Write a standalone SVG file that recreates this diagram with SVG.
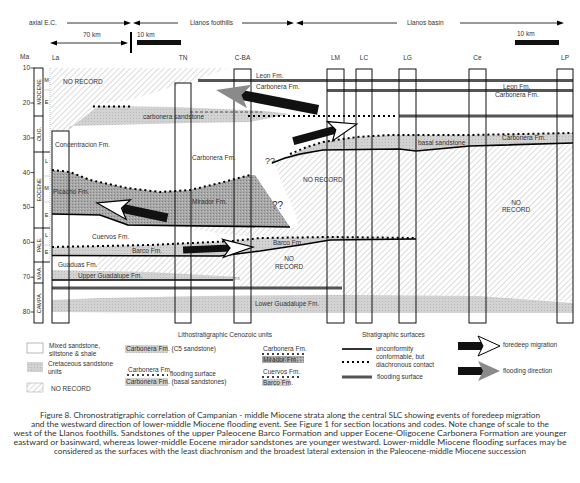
<svg xmlns="http://www.w3.org/2000/svg" width="580" height="483" viewBox="0 0 580 483">
<style>
.t{font-family:"Liberation Sans",Arial,sans-serif;font-size:6.5px;fill:#333}
.s{font-family:"Liberation Sans",Arial,sans-serif;font-size:5.5px;fill:#222}
.cap{font-family:Lato,"Liberation Sans",sans-serif;font-size:7.4px;fill:#333}
.col{fill:none;stroke:#111;stroke-width:1}
.unc{fill:none;stroke:#000;stroke-width:1.6}
.dot{fill:none;stroke:#000;stroke-width:2;stroke-dasharray:2 3}
.fs{fill:none;stroke:#555;stroke-width:3}
</style>
<defs>
<pattern id="hatch" width="4" height="4" patternUnits="userSpaceOnUse" patternTransform="rotate(45)">
<line x1="0" y1="0" x2="0" y2="4" stroke="#999" stroke-width="0.7"/>
</pattern>
<pattern id="stL" width="3" height="3" patternUnits="userSpaceOnUse">
<rect width="3" height="3" fill="#d2d2d2"/><rect x="1" y="1" width="1" height="1" fill="#b8b8b8"/>
</pattern>
<pattern id="stD" width="3" height="3" patternUnits="userSpaceOnUse">
<rect width="3" height="3" fill="#a8a8a8"/><rect x="0" y="0" width="1" height="1" fill="#808080"/><rect x="2" y="1" width="1" height="1" fill="#c4c4c4"/>
</pattern>
</defs>
<rect width="580" height="483" fill="#fff"/>

<!-- top scale -->
<g id="scale">
<text class="t" x="29" y="25">axial E.C.</text>
<line x1="67" y1="23" x2="127" y2="23" stroke="#000" stroke-width="0.8"/>
<polygon points="131,23 124,20.5 124,25.5" fill="#000"/>
<line x1="137" y1="23" x2="178" y2="23" stroke="#000" stroke-width="0.8"/>
<polygon points="133,23 140,20.5 140,25.5" fill="#000"/>
<text class="t" x="190" y="25">Llanos foothills</text>
<line x1="242" y1="23" x2="290" y2="23" stroke="#000" stroke-width="0.8"/>
<polygon points="294,23 287,20.5 287,25.5" fill="#000"/>
<line x1="300" y1="23" x2="397" y2="23" stroke="#000" stroke-width="0.8"/>
<polygon points="296,23 303,20.5 303,25.5" fill="#000"/>
<text class="t" x="407" y="25">Llanos basin</text>
<line x1="460" y1="23" x2="560" y2="23" stroke="#000" stroke-width="0.8"/>
<polygon points="564,23 557,20.5 557,25.5" fill="#000"/>
<text class="t" x="83" y="37">70 km</text>
<line x1="54" y1="43" x2="124" y2="43" stroke="#000" stroke-width="0.8"/>
<polygon points="50,43 57,40.5 57,45.5" fill="#000"/>
<polygon points="128,43 121,40.5 121,45.5" fill="#000"/>
<line x1="131" y1="32" x2="131" y2="53" stroke="#000" stroke-width="2"/>
<text class="t" x="137" y="37">10 km</text>
<rect x="137" y="40" width="44" height="5" fill="#111"/>
<text class="t" x="517" y="36">10 km</text>
<rect x="515" y="40" width="44" height="5" fill="#111"/>
</g>

<!-- time axis -->
<g id="axis">
<text class="t" x="20" y="59">Ma</text>
<g class="t" text-anchor="end">
<text x="30" y="70">10</text><text x="30" y="105">20</text><text x="30" y="140">30</text><text x="30" y="175">40</text>
<text x="30" y="209">50</text><text x="30" y="244">60</text><text x="30" y="279">70</text><text x="30" y="314">80</text>
</g>
<g stroke="#000" stroke-width="0.7">
<line x1="30.5" y1="68" x2="34" y2="68"/><line x1="30.5" y1="103" x2="34" y2="103"/><line x1="30.5" y1="138" x2="34" y2="138"/><line x1="30.5" y1="172.6" x2="34" y2="172.6"/>
<line x1="30.5" y1="207.4" x2="34" y2="207.4"/><line x1="30.5" y1="242.3" x2="34" y2="242.3"/><line x1="30.5" y1="277.2" x2="34" y2="277.2"/><line x1="30.5" y1="312" x2="34" y2="312"/>
</g>
<rect x="34" y="68" width="9" height="255" fill="#fff" stroke="#000" stroke-width="0.9"/>
<g stroke="#000" stroke-width="0.9">
<line x1="34" y1="116" x2="43" y2="116"/><line x1="34" y1="152" x2="50" y2="152"/><line x1="34" y1="228" x2="50" y2="228"/>
<line x1="34" y1="262" x2="50" y2="262"/><line x1="34" y1="283" x2="43" y2="283"/>
</g>
<line x1="50" y1="68" x2="50" y2="262" stroke="#999" stroke-width="0.6" stroke-dasharray="1 1"/>
<g stroke="#aaa" stroke-width="0.5">
<line x1="43" y1="90" x2="50" y2="90"/><line x1="43" y1="176" x2="50" y2="176"/><line x1="43" y1="202" x2="50" y2="202"/><line x1="43" y1="245" x2="50" y2="245"/>
</g>
<g class="s" text-anchor="middle">
<text transform="translate(40.5,92) rotate(-90)">MIOCENE</text>
<text transform="translate(40.5,134) rotate(-90)">OLIG.</text>
<text transform="translate(40.5,190) rotate(-90)">EOCENE</text>
<text transform="translate(40.5,245) rotate(-90)">PALE.</text>
<text transform="translate(40.5,273) rotate(-90)">MAA.</text>
<text transform="translate(40.5,303) rotate(-90)">CAMPA.</text>
<text x="46.5" y="82">M</text><text x="46.5" y="104">E</text>
<text x="46.5" y="163">L</text><text x="46.5" y="190">M</text><text x="46.5" y="217">E</text>
<text x="46.5" y="237">L</text><text x="46.5" y="254">E</text>
</g>
</g>

<!-- units / fills -->
<g id="no-record-top">
<polygon points="51,68 228,68 200,79 175,86 130,100 100,104 68,131 51,131" fill="url(#hatch)"/>
</g>
<g id="no-record-main">
<polygon points="274,163 300,156 323,150 399,149 416,151 470,146 573,143 573,302 480,296 342,295 342,288 240,288 240,277 95,270 98,256 112,240 100,217 128,226 298,228 296,215 285,190" fill="url(#hatch)"/>
</g>
<g id="cuervos-fm">
<polygon points="52,214 100,216 240,236 330,238 330,241 233,242 52,248" fill="#fff"/>
</g>
<g id="guaduas-fm">
<polygon points="52,256 99,256 95,270 52,270" fill="#fff"/>
</g>
<g id="carbonera-sandstone">
<polygon points="98,106 175,107 265,111 290,114 250,122 190,123 70,126 68,130" fill="url(#stL)"/>
</g>
<g id="mirador-picacho">
<polygon points="52,170 70,172 90,180 127,188 160,192 190,190 220,183 250,175 255,175 290,227 128,226 100,215 52,214" fill="url(#stD)"/>
</g>
<g id="basal-sandstone">
<polygon points="282,160 307,147 323,142 357,137 390,135 470,135 573,133 573,143 470,146 416,151 399,149 323,150 300,156" fill="url(#stL)"/>
</g>
<g id="barco-fm">
<polygon points="52,247 150,245 233,241 260,238 330,237 416,238 416,239 330,240 300,245 260,251 220,256 52,255" fill="url(#stL)"/>
</g>
<g id="upper-guadalupe">
<polygon points="52,270 150,272 240,277 240,280 52,280" fill="url(#stL)"/>
</g>
<g id="lower-guadalupe">
<polygon points="52,300 100,298 200,296 342,295 480,296 573,303 573,313 200,313 52,312" fill="url(#stL)"/>
</g>

<!-- connectors: surfaces -->
<g id="surfaces">
<line class="fs" x1="198" y1="80.5" x2="573" y2="80.5"/>
<line class="fs" x1="327" y1="90.5" x2="573" y2="90.5"/>
<line class="fs" x1="399" y1="116" x2="573" y2="116"/>
<line class="dot" x1="248" y1="116" x2="396" y2="116"/>
<line class="dot" x1="93" y1="106.5" x2="130" y2="106.5"/>
<line x1="190" y1="112" x2="262" y2="112" stroke="#333" stroke-width="0.8" stroke-dasharray="3 2"/>
<polyline class="dot" points="290,154 307,147 323,142 357,137 390,135 470,135 573,133"/>
<polyline class="unc" points="272,163 285,158 300,154 323,150 399,149 416,151 470,146 573,143"/>
<polyline class="dot" points="52,170 70,172 90,180 127,188 160,192 190,190 220,183 250,175"/>
<polyline class="unc" points="52,214 100,215 128,225 290,227"/>
<polyline class="dot" points="52,247 150,245 233,241 260,238 330,237 416,238"/>
<polyline class="unc" points="52,255.5 220,256 260,251 300,245 330,240 416,239"/>
<line class="unc" x1="52" y1="280" x2="233" y2="280"/>
<line class="fs" x1="52" y1="288" x2="342" y2="288"/>
</g>

<!-- sections -->
<g id="sec-La"><rect class="col" x="52" y="131" width="17" height="192"/><text class="t" x="52" y="60">La</text></g>
<g id="sec-TN"><rect class="col" x="175" y="83" width="16" height="240"/><text class="t" x="183" y="60" text-anchor="middle">TN</text></g>
<g id="sec-CBA"><rect class="col" x="234" y="69" width="17" height="254"/><text class="t" x="242.5" y="60" text-anchor="middle">C-BA</text></g>
<g id="sec-LM"><rect class="col" x="327" y="69" width="17" height="254"/><text class="t" x="335.5" y="60" text-anchor="middle">LM</text></g>
<g id="sec-LC"><rect class="col" x="356" y="69" width="16" height="254"/><text class="t" x="364" y="60" text-anchor="middle">LC</text></g>
<g id="sec-LG"><rect class="col" x="399" y="69" width="17" height="254"/><text class="t" x="407.5" y="60" text-anchor="middle">LG</text></g>
<g id="sec-Ce"><rect class="col" x="469" y="69" width="17" height="254"/><text class="t" x="477.5" y="60" text-anchor="middle">Ce</text></g>
<g id="sec-LP"><rect class="col" x="557" y="69" width="16" height="254"/><text class="t" x="565" y="60" text-anchor="middle">LP</text></g>

<!-- unit labels -->
<g id="labels" class="t">
<text x="63" y="84">NO RECORD</text>
<text x="256" y="78">Leon Fm.</text>
<text x="256" y="89">Carbonera Fm.</text>
<text x="503" y="89">Leon Fm.</text>
<text x="495" y="97">Carbonera Fm.</text>
<text x="143" y="119">carbonera sandstone</text>
<text x="55" y="147">Concentracion Fm.</text>
<text x="192" y="160">Carbonera Fm.</text>
<text x="418" y="145">basal sandstone</text>
<text x="502" y="140">Carbonera Fm.</text>
<text x="303" y="182">NO RECORD</text>
<text x="53" y="194">Picacho Fm.</text>
<text x="192" y="204">Mirador Fm.</text>
<text x="516" y="205" text-anchor="middle">NO</text>
<text x="516" y="212" text-anchor="middle">RECORD</text>
<text x="92" y="239">Cuervos Fm.</text>
<text x="132" y="253">Barco Fm.</text>
<text x="273" y="245">Barco Fm.</text>
<text x="289" y="261" text-anchor="middle">NO</text>
<text x="289" y="269" text-anchor="middle">RECORD</text>
<text x="58" y="267">Guaduas Fm.</text>
<text x="78" y="278">Upper Guadalupe Fm.</text>
<text x="255" y="306">Lower Guadalupe Fm.</text>
<text x="265" y="164" style="font-size:9px">??</text>
<text x="272" y="209" style="font-size:10px">??</text>
</g>

<!-- arrows -->
<g id="arrow-flood-top" transform="translate(216,90) rotate(191)">
<rect x="-104" y="-5" width="80" height="10" fill="#111"/>
<polygon points="0,0 -34,-12 -26,0 -34,12" fill="#8a8a8a"/>
</g>
<g id="arrow-foredeep-mid" transform="translate(357,124) rotate(-15)">
<rect x="-66" y="-4" width="44" height="8" fill="#111"/>
<polygon points="0,0 -28,-10 -22,0 -28,10" fill="#fff" stroke="#000" stroke-width="1.2"/>
</g>
<g id="arrow-foredeep-eocene" transform="translate(97,203) rotate(192)">
<rect x="-72" y="-4.5" width="46" height="9" fill="#111"/>
<polygon points="0,0 -32,-10 -25,0 -32,10" fill="#fff" stroke="#000" stroke-width="1.2"/>
</g>
<g id="arrow-foredeep-barco" transform="translate(253,247) rotate(-2.5)">
<rect x="-70" y="-3.5" width="48" height="7" fill="#111"/>
<polygon points="0,0 -30,-9 -23,0 -30,9" fill="#fff" stroke="#000" stroke-width="1.2"/>
</g>

<!-- legend -->
<g id="legend-left" class="t">
<rect x="27" y="343" width="16" height="10" fill="#fff" stroke="#888" stroke-width="0.6"/>
<text x="49" y="348">Mixed sandstone,</text><text x="49" y="356">siltstone &amp; shale</text>
<rect x="27" y="362" width="16" height="10" fill="url(#stL)"/>
<text x="48" y="366">Cretaceous sandstone</text><text x="48" y="374">units</text>
<rect x="27" y="383" width="16" height="9" fill="url(#hatch)" stroke="#888" stroke-width="0.4"/>
<text x="51" y="391">NO RECORD</text>
</g>
<g id="legend-litho" class="t">
<text x="178" y="337">Lithostratigraphic Cenozoic units</text>
<rect x="125" y="345" width="43" height="8" fill="url(#stL)"/>
<text x="126" y="351">Carbonera Fm. (C5 sandstone)</text>
<text x="128" y="372">Carbonera Fm.</text>
<line class="dot" x1="127" y1="375" x2="168" y2="375" style="stroke-width:1.5"/>
<text x="170" y="376">flooding surface</text>
<rect x="125" y="378" width="43" height="8" fill="url(#stL)"/>
<text x="126" y="384">Carbonera Fm. (basal sandstones)</text>
<text x="263" y="351">Carbonera Fm.</text>
<line class="dot" x1="262" y1="354" x2="304" y2="354" style="stroke-width:1.5"/>
<rect x="262" y="356" width="42" height="7" fill="url(#stD)"/>
<text x="263" y="362">Mirador Fm.</text>
<text x="263" y="374">Cuervos Fm.</text>
<line class="dot" x1="262" y1="377" x2="302" y2="377" style="stroke-width:1.5"/>
<rect x="262" y="379" width="28" height="7" fill="url(#stL)"/>
<text x="263" y="385">Barco Fm.</text>
</g>
<g id="legend-surfaces" class="t">
<text x="362" y="337">Stratigraphic surfaces</text>
<line class="unc" x1="342" y1="349" x2="372" y2="349"/>
<text x="376" y="351">unconformity</text>
<line class="dot" x1="342" y1="362" x2="372" y2="362"/>
<text x="376" y="359">conformable, but</text>
<text x="376" y="367">diachronous contact</text>
<line class="fs" x1="342" y1="377" x2="372" y2="377"/>
<text x="377" y="379">flooding surface</text>
</g>
<g id="legend-arrows" class="t">
<g transform="translate(500,346)">
<rect x="-42" y="-4" width="26" height="8" fill="#111"/>
<polygon points="0,0 -22,-10 -17,0 -22,10" fill="#fff" stroke="#000" stroke-width="1"/>
</g>
<text x="503" y="347">foredeep migration</text>
<g transform="translate(500,371)">
<rect x="-42" y="-4" width="26" height="8" fill="#111"/>
<polygon points="0,0 -22,-10 -17,0 -22,10" fill="#8a8a8a"/>
</g>
<text x="503" y="373">flooding direction</text>
</g>

<!-- caption -->
<g id="caption" class="cap" text-anchor="middle">
<text x="290" y="417.5" textLength="500" lengthAdjust="spacingAndGlyphs">Figure 8. Chronostratigraphic correlation of Campanian - middle Miocene strata along the central SLC showing events of foredeep migration</text>
<text x="290" y="426.5" textLength="518" lengthAdjust="spacingAndGlyphs">and the westward direction of lower-middle Miocene flooding event. See Figure 1 for section locations and codes. Note change of scale to the</text>
<text x="290" y="435.5" textLength="553" lengthAdjust="spacingAndGlyphs">west of the Llanos foothills. Sandstones of the upper Paleocene Barco Formation and upper Eocene-Oligocene Carbonera Formation are younger</text>
<text x="290" y="444.5" textLength="553" lengthAdjust="spacingAndGlyphs">eastward or basinward, whereas lower-middle Eocene mirador sandstones are younger westward. Lower-middle Miocene flooding surfaces may be</text>
<text x="290" y="453.5" textLength="472" lengthAdjust="spacingAndGlyphs">considered as the surfaces with the least diachronism and the broadest lateral extension in the Paleocene-middle Miocene succession</text>
</g>
</svg>
